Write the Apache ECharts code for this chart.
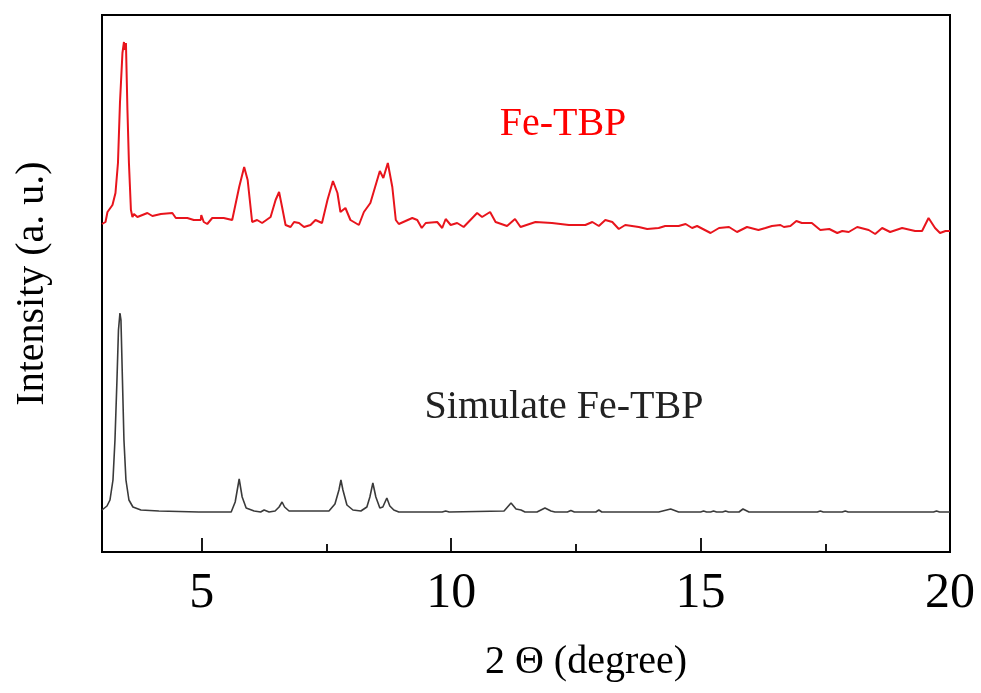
<!DOCTYPE html>
<html style="height: 100%">
	<head>
		<meta charset="utf-8">
	</head>
	<body style="height: 100%; margin: 0; background: #fff">
		<div id="container" style="width: 981px; height: 693px"></div>
		<script type="text/javascript" src="https://cdn.jsdelivr.net/npm/echarts@6/dist/echarts.min.js"></script>
		<script type="text/javascript">
			// measured Fe-TBP pattern (2 theta, intensity a.u.)
			const feAngle = [3.00, 3.07, 3.11, 3.21, 3.27, 3.32, 3.36, 3.41, 3.44, 3.46, 3.48, 3.51, 3.54, 3.58, 3.61, 3.64, 3.71, 3.91, 4.01, 4.18,
				4.41, 4.48, 4.71, 4.84, 4.98, 4.99, 5.04, 5.11, 5.21, 5.44, 5.61, 5.75, 5.85, 5.92, 6.01, 6.11, 6.21, 6.38, 6.48, 6.55,
				6.61, 6.68, 6.78, 6.85, 6.95, 7.05, 7.18, 7.28, 7.41, 7.52, 7.63, 7.72, 7.78, 7.88, 7.98, 8.15, 8.25, 8.38, 8.57, 8.64,
				8.73, 8.82, 8.89, 8.95, 9.22, 9.32, 9.41, 9.49, 9.72, 9.82, 9.89, 9.99, 10.12, 10.25, 10.52, 10.62, 10.78, 10.89, 11.12, 11.28,
				11.39, 11.69, 12.02, 12.36, 12.69, 12.83, 12.96, 13.09, 13.23, 13.36, 13.49, 13.76, 13.93, 14.16, 14.29, 14.56, 14.70, 14.83, 14.93, 15.20,
				15.37, 15.57, 15.73, 15.93, 16.16, 16.30, 16.43, 16.60, 16.67, 16.80, 16.92, 17.03, 17.23, 17.40, 17.58, 17.74, 17.84, 17.97, 18.14, 18.37,
				18.50, 18.64, 18.80, 19.04, 19.30, 19.44, 19.57, 19.70, 19.80, 19.91, 20.00];
			const feIntensity = [328, 330, 340, 347, 359, 389, 449, 499, 510, 502, 509, 442, 389, 342, 335, 338, 335, 339, 336, 338,
				339, 334, 334, 332, 332, 337, 330, 328, 334, 334, 332, 365, 385, 372, 330, 332, 329, 335, 352, 360,
				345, 327, 325, 330, 329, 325, 327, 332, 329, 352, 371, 359, 340, 344, 332, 327, 340, 349, 381, 374,
				389, 365, 332, 328, 334, 332, 324, 329, 330, 324, 333, 327, 329, 325, 339, 335, 340, 330, 326, 333,
				325, 330, 329, 327, 327, 330, 326, 332, 330, 323, 327, 325, 323, 324, 326, 326, 328, 324, 326, 319,
				324, 325, 320, 325, 322, 324, 326, 327, 325, 326, 331, 329, 329, 322, 323, 319, 321, 320, 325, 322,
				318, 324, 320, 324, 321, 321, 334, 324, 319, 321, 321];

			// simulated Fe-TBP pattern
			const simAngle = [3.00, 3.10, 3.16, 3.22, 3.26, 3.30, 3.33, 3.36, 3.38, 3.41, 3.44, 3.48, 3.54, 3.62, 3.78, 4.14, 4.94, 5.59, 5.67, 5.75,
				5.81, 5.89, 6.05, 6.18, 6.25, 6.35, 6.47, 6.55, 6.61, 6.66, 6.75, 7.55, 7.67, 7.75, 7.79, 7.83, 7.91, 8.03, 8.19, 8.31,
				8.37, 8.43, 8.49, 8.57, 8.63, 8.71, 8.77, 8.85, 8.95, 9.82, 9.89, 9.96, 11.06, 11.20, 11.30, 11.40, 11.48, 11.72, 11.88, 12.00,
				12.08, 12.33, 12.40, 12.47, 12.90, 12.96, 13.02, 14.16, 14.40, 14.56, 15.00, 15.06, 15.12, 15.20, 15.26, 15.32, 15.44, 15.50, 15.56, 15.77,
				15.85, 15.97, 17.34, 17.40, 17.46, 17.84, 17.90, 17.96, 19.67, 19.73, 19.79, 20.00];
			const simIntensity = [42, 46, 52, 72, 112, 172, 222, 239, 232, 172, 112, 72, 52, 45, 42, 41, 40, 40, 50, 73,
				55, 44, 41, 40, 42, 40, 41, 45, 50, 45, 41, 41, 48, 62, 72, 62, 47, 42, 41, 45,
				55, 69, 55, 44, 45, 54, 46, 42, 40, 40, 41, 40, 41, 49, 43, 42, 40, 40, 44, 41,
				40, 40, 41.5, 40, 40, 42, 40, 40, 43, 40, 40, 41, 40, 40, 41, 40, 40, 41, 40, 40,
				43, 40, 40, 41, 40, 40, 41, 40, 40, 41, 40, 40];

			const majorTicks = [5, 10, 15, 20];
			const minorTicks = [7.5, 12.5, 17.5];

			const feData = feAngle.map(function (a, i) { return [a, feIntensity[i]]; });
			const simData = simAngle.map(function (a, i) { return [a, simIntensity[i]]; });

			const font = '"Liberation Serif", "Times New Roman", serif';
			var myChart = echarts.init(document.getElementById('container'));

			var option = {
				animation: false,
				grid: {
					left: 102,
					right: 31,
					top: 15,
					bottom: 141,
					show: true,
					borderColor: '#000',
					borderWidth: 2
				},
				xAxis: [{
					type: 'value',
					min: 3,
					max: 20,
					name: '2 \u0398 (degree)',
					nameLocation: 'middle',
					nameGap: 90,
					nameTextStyle: { fontFamily: font, fontSize: 40, color: '#000', padding: [0, 0, 0, 120] },
					axisLine: { show: true, onZero: false, lineStyle: { color: '#000', width: 2 } },
					axisTick: { show: true, inside: true, length: 14, customValues: majorTicks, lineStyle: { color: '#000', width: 1.8 } },
					axisLabel: { customValues: majorTicks, fontFamily: font, fontSize: 50, color: '#000', margin: 17 },
					splitLine: { show: false }
				}, {
					// minor ticks only
					type: 'value',
					min: 3,
					max: 20,
					position: 'bottom',
					axisLine: { show: false },
					axisTick: { show: true, inside: true, length: 8, customValues: minorTicks, lineStyle: { color: '#000', width: 1.8 } },
					axisLabel: { show: false },
					splitLine: { show: false }
				}],
				yAxis: {
					type: 'value',
					min: 0,
					max: 537,
					name: 'Intensity (a. u.)',
					nameLocation: 'middle',
					nameGap: 50,
					nameTextStyle: { fontFamily: font, fontSize: 40, color: '#000' },
					axisLine: { show: true, lineStyle: { color: '#000', width: 2 } },
					axisTick: { show: false },
					axisLabel: { show: false },
					splitLine: { show: false }
				},
				series: [{
					name: 'Fe-TBP',
					type: 'line',
					data: feData,
					showSymbol: false,
					lineStyle: { color: '#e8141c', width: 2 }
				}, {
					name: 'Simulate Fe-TBP',
					type: 'line',
					data: simData,
					showSymbol: false,
					lineStyle: { color: '#3a3a3a', width: 1.6 }
				}],
				graphic: {
					elements: [{
						type: 'text',
						x: 563,
						y: 124,
						style: { text: 'Fe-TBP', font: '40px ' + font, fill: '#ff0000', align: 'center', verticalAlign: 'middle' }
					}, {
						type: 'text',
						x: 564,
						y: 407,
						style: { text: 'Simulate Fe-TBP', font: '40px ' + font, fill: '#222', align: 'center', verticalAlign: 'middle' }
					}]
				}
			};
			myChart.setOption(option);
		</script>
	</body>
</html>
